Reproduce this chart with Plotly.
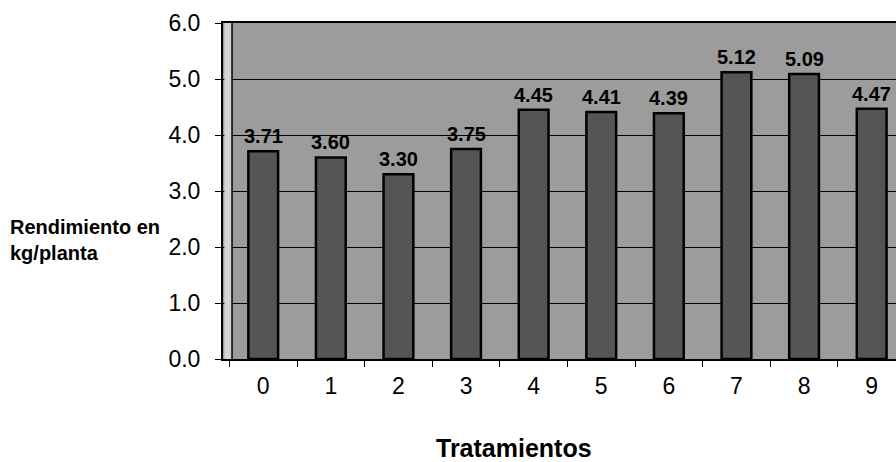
import plotly.graph_objects as go

# Rendimiento por tratamiento (kg/planta)
tratamientos = ["0", "1", "2", "3", "4", "5", "6", "7", "8", "9"]
rendimiento = [3.71, 3.60, 3.30, 3.75, 4.45, 4.41, 4.39, 5.12, 5.09, 4.47]
y_ticks = [0, 1, 2, 3, 4, 5, 6]

W, H = 896, 462
L, R, T, B = 223, 0, 23, 103
FONT = "Liberation Sans, Arial, sans-serif"

fig = go.Figure()
fig.add_trace(go.Bar(
    x=tratamientos,
    y=rendimiento,
    width=0.44,
    marker=dict(color="#555555", line=dict(color="#000000", width=2.5)),
    showlegend=False,
))

# value labels above each bar
value_labels = [
    dict(x=cat, y=val, xref="x", yref="y", text=f"<b>{val:.2f}</b>",
         showarrow=False, xanchor="center", yanchor="bottom", yshift=2,
         font=dict(family=FONT, size=20, color="#000000"))
    for cat, val in zip(tratamientos, rendimiento)
]

fig.update_layout(
    width=W, height=H,
    margin=dict(l=L, r=R, t=T, b=B, pad=0),
    paper_bgcolor="#ffffff",
    plot_bgcolor="#9c9c9c",
    font=dict(family=FONT, color="#000000"),
    xaxis=dict(
        type="category",
        range=[-0.595, 9.36],
        tickson="boundaries",
        ticks="outside", ticklen=6, tickwidth=1, tickcolor="#000000",
        showline=True, linecolor="#000000", linewidth=2, mirror=True,
        showgrid=False,
        tickfont=dict(size=23),
        ticklabelstandoff=5,
    ),
    yaxis=dict(
        range=[0, 6],
        tickvals=y_ticks,
        tickformat=".1f",
        ticks="outside", ticklen=6, tickwidth=1, tickcolor="#000000",
        showline=True, linecolor="#000000", linewidth=2,
        showgrid=True, gridcolor="#000000", gridwidth=1,
        zeroline=False,
        tickfont=dict(size=23),
        ticklabelstandoff=10,
    ),
    shapes=[
        # side wall strip along the value axis
        dict(type="rect", xref="paper", yref="paper", x0=0.002, x1=0.0134, y0=0, y1=1,
             fillcolor="#d4d4d4", line=dict(width=0), layer="above"),
        dict(type="line", xref="paper", yref="paper", x0=0.0134, x1=0.0134, y0=0, y1=1,
             line=dict(color="#000000", width=1.5), layer="above"),
    ],
    annotations=value_labels + [
        dict(text="<b>Tratamientos</b>", xref="paper", yref="paper",
             x=(514 - L) / (W - L - R), y=-(448 - (H - B)) / (H - T - B),
             xanchor="center", yanchor="middle", showarrow=False,
             font=dict(size=25)),
        dict(text="<b>Rendimiento en<br>kg/planta</b>", xref="paper", yref="paper",
             x=-(L - 8) / (W - L - R), y=(H - B - 240) / (H - T - B),
             xanchor="left", yanchor="middle", align="left", showarrow=False,
             font=dict(size=20)),
    ],
)

fig.write_html("out.html")
